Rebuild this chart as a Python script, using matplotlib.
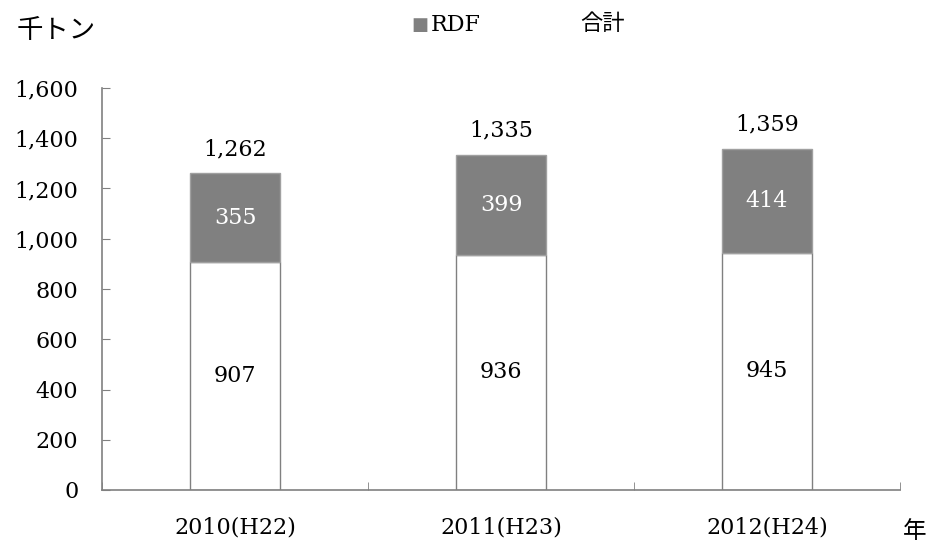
import matplotlib
matplotlib.use("Agg")
import matplotlib.pyplot as plt
import numpy as np

categories = ["2010(H22)", "2011(H23)", "2012(H24)"]
base_values = [907, 936, 945]
rdf_values = [355, 399, 414]
totals = [1262, 1335, 1359]
yticks = [0, 200, 400, 600, 800, 1000, 1200, 1400, 1600]

serif = ["DejaVu Serif"]
jp = ["Noto Sans CJK JP", "DejaVu Sans"]

fig = plt.figure(figsize=(9.32, 5.44), dpi=100)
ax = fig.add_axes([102/932, 1-490/544, (900-102)/932, (490-88)/544])

x = np.arange(len(categories))
w = 0.335
ax.bar(x, base_values, w, color="white", edgecolor="#808080", linewidth=1)
ax.bar(x, rdf_values, w, bottom=base_values, color="#808080", edgecolor="#a0a0a0", linewidth=1)

fs = 16
for i in range(len(categories)):
    ax.text(x[i], base_values[i] / 2, f"{base_values[i]:,}", ha="center", va="center",
            fontsize=fs, family=serif, color="black")
    ax.text(x[i], base_values[i] + rdf_values[i] / 2, f"{rdf_values[i]:,}", ha="center", va="center",
            fontsize=fs, family=serif, color="white")
    ax.text(x[i], totals[i] + 95, f"{totals[i]:,}", ha="center", va="center",
            fontsize=fs, family=serif, color="black")

ax.set_xlim(-0.5, len(categories) - 0.5)
ax.set_ylim(0, 1600)
ax.set_yticks(yticks)
ax.set_yticklabels([f"{v:,}" for v in yticks], family=serif, fontsize=fs)
ax.tick_params(axis="y", direction="in", length=6, color="#808080", pad=17)

ax.set_xticks(x)
ax.set_xticklabels(categories, family=serif, fontsize=fs)
ax.tick_params(axis="x", length=0, pad=19)
ax.set_xticks(np.arange(-0.5, len(categories)), minor=True)
ax.tick_params(axis="x", which="minor", direction="in", length=6, color="#808080")

for s in ["top", "right"]:
    ax.spines[s].set_visible(False)
for s in ["left", "bottom"]:
    ax.spines[s].set_color("#808080")
    ax.spines[s].set_linewidth(1.2)

fig.text(17/932, 1-30/544, "千トン", family=jp, fontsize=19, va="center", ha="left")
fig.text(903/932, 1-531/544, "年", family=jp, fontsize=17, va="center", ha="left")
fig.text(411/932, 1-25/544, "■", family=["DejaVu Sans"], fontsize=13, color="#808080", va="center", ha="left")
fig.text(431/932, 1-25/544, "RDF", family=serif, fontsize=16, va="center", ha="left")
fig.text(580/932, 1-24/544, "合計", family=jp, fontsize=16, va="center", ha="left")

fig.savefig("out.png", dpi=100)
